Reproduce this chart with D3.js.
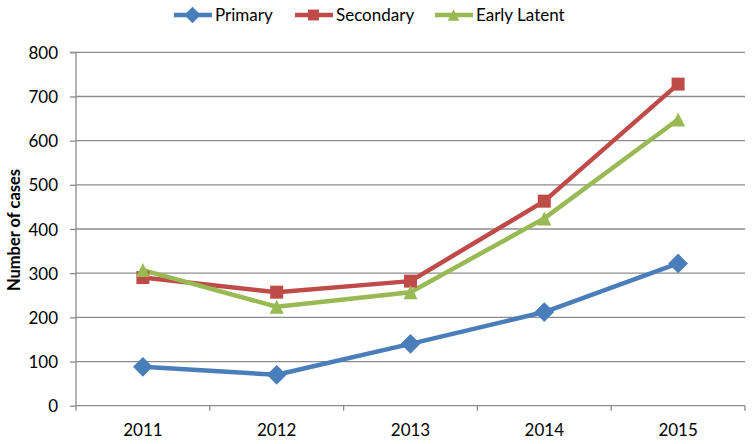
<!DOCTYPE html>
<html><head><meta charset="utf-8">
<script src="https://cdn.jsdelivr.net/npm/d3@7/dist/d3.min.js"></script>
<style>body{margin:0;background:#fff}svg{display:block}text{font-family:Lato,"Open Sans",sans-serif;fill:#000}</style>
</head><body>
<svg id="c" width="754" height="444"></svg>
<script>
const years = ["2011","2012","2013","2014","2015"];
const primary = [88, 70, 140, 212, 322];
const secondary = [290, 257, 282, 463, 728];
const earlyLatent = [307, 224, 257, 424, 648];
const yTicks = [0,100,200,300,400,500,600,700,800];
const seriesNames = ["Primary","Secondary","Early Latent"];
const colors = ["#4a7ebb","#be4b48","#98b954"];

const excelDiamond = {draw(ctx, size){const r=Math.sqrt(size/2);ctx.moveTo(0,-r);ctx.lineTo(r,0);ctx.lineTo(0,r);ctx.lineTo(-r,0);ctx.closePath();}};
const excelSquare = {draw(ctx, size){const h=Math.sqrt(size)/2;ctx.rect(-h,-h,2*h,2*h);}};
const excelTriangle = {draw(ctx, size){const h=Math.sqrt(size)/2;ctx.moveTo(0,-h);ctx.lineTo(h,h);ctx.lineTo(-h,h);ctx.closePath();}};
const markers = [excelDiamond, excelSquare, excelTriangle];
const sizes = [196, 169, 196];

const series = [primary, secondary, earlyLatent];
const svg = d3.select("#c");
const L = 76, R = 745, T = 52.3, B = 405.7;
const x = d3.scaleBand().domain(years).range([L, R]);
const y = d3.scaleLinear().domain([0, 800]).range([B, T]);
const gridCol = "#8c8c8c";

// gridlines
svg.append("g").selectAll("line").data(yTicks.filter(d=>d>0)).join("line")
  .attr("x1", L).attr("x2", R).attr("y1", d=>y(d)).attr("y2", d=>y(d))
  .attr("stroke", gridCol).attr("stroke-width", 1.3);

// y axis
const ya = svg.append("g").attr("transform", `translate(${L},0)`)
  .call(d3.axisLeft(y).tickValues(yTicks).tickSize(6).tickPadding(12).tickFormat(d3.format("d")));
ya.select(".domain").attr("stroke",gridCol).attr("stroke-width",1.3).attr("d", `M-6,${T}H0V${B}`);
ya.selectAll(".tick line").attr("stroke",gridCol).attr("stroke-width",1.3);
ya.selectAll(".tick text").attr("font-size", 17).attr("font-family","Lato,sans-serif").attr("fill","#000").attr("dy","0.36em");

// x axis
const xa = svg.append("g").attr("transform", `translate(0,${B})`)
  .call(d3.axisBottom(x).tickSize(0).tickPadding(0));
xa.select(".domain").attr("stroke",gridCol).attr("stroke-width",1.3).attr("d", `M${L},0H${R}`);
xa.selectAll(".tick text").attr("font-size", 17).attr("font-family","Lato,sans-serif").attr("fill","#000")
  .attr("dy", null).attr("y", 30.5);
// category boundary ticks
const bounds = years.map(d=>x(d)).concat([R]);
xa.append("g").selectAll("line").data(bounds).join("line")
  .attr("x1", d=>d).attr("x2", d=>d).attr("y1", 0).attr("y2", 5)
  .attr("stroke",gridCol).attr("stroke-width",1.3);

// y title
svg.append("text").attr("transform", `translate(20,${(T+B)/2+1}) rotate(-90)`)
  .attr("text-anchor","middle").attr("font-size",16.5).attr("font-weight","bold").text("Number of cases");

// lines
const cx = d => x(d) + x.bandwidth()/2;
const line = d3.line().x((d,i)=>cx(years[i])).y(d=>y(d));
series.forEach((s, k) => {
  svg.append("path").datum(s).attr("d", line).attr("fill","none")
    .attr("stroke", colors[k]).attr("stroke-width", 4.5).attr("stroke-linejoin","round");
});
series.forEach((s, k) => {
  svg.append("g").selectAll("path").data(s).join("path")
    .attr("d", d3.symbol().type(markers[k]).size(sizes[k]))
    .attr("transform", (d,i)=>`translate(${cx(years[i])},${y(d)})`)
    .attr("fill", colors[k]);
});

// legend
const legX = [174, 295, 435];
const lg = svg.append("g");
seriesNames.forEach((n, k) => {
  const g = lg.append("g").attr("transform", `translate(${legX[k]},15)`);
  g.append("line").attr("x1",0).attr("x2",38).attr("stroke",colors[k]).attr("stroke-width",4.5);
  g.append("path").attr("d", d3.symbol().type(markers[k]).size(sizes[k]*0.7)).attr("transform","translate(18.5,0)").attr("fill",colors[k]);
  g.append("text").attr("x", 41).attr("dy","0.36em").attr("font-size",17).text(n);
});
</script>
</body></html>
